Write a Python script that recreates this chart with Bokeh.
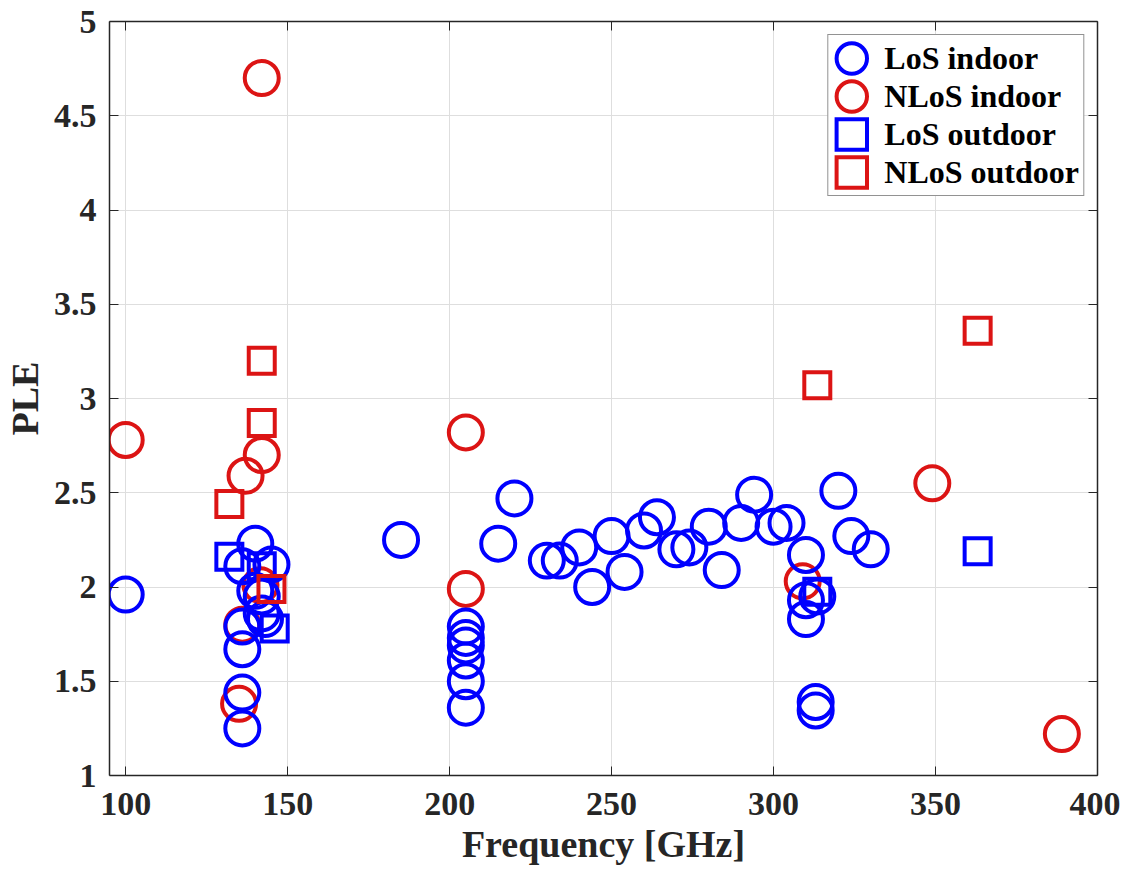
from bokeh.plotting import figure
from bokeh.models import ColumnDataSource, Range1d, FixedTicker, LinearAxis, Legend, LegendItem
from bokeh.embed import file_html
from bokeh.resources import INLINE

# ---------------- data ----------------
los_in_freq = [100, 140, 136, 145, 140, 142, 142, 143, 136, 136, 136, 136,
               185, 205, 205, 205, 205, 205, 205, 215, 220, 230, 234, 240,
               244, 250, 254, 260, 264, 270, 274, 280, 284, 290, 294, 300,
               304, 310, 310, 310, 313.5, 313, 313, 320, 324, 330]
los_in_ple = [1.96, 2.23, 2.11, 2.12, 1.98, 1.95, 1.86, 1.83, 1.79, 1.67, 1.44, 1.25,
              2.25, 1.79, 1.73, 1.69, 1.61, 1.50, 1.36, 2.23, 2.47, 2.14, 2.14, 2.21,
              2.00, 2.27, 2.08, 2.30, 2.37, 2.20, 2.21, 2.32, 2.09, 2.34, 2.49, 2.32,
              2.34, 2.17, 1.93, 1.83, 1.95, 1.39, 1.345, 2.51, 2.27, 2.20]

nlos_in_freq = [100, 142, 142, 137, 141.6, 136, 135, 205, 205, 309, 349, 389]
nlos_in_ple = [2.78, 4.70, 2.70, 2.59, 2.01, 1.80, 1.38, 2.82, 1.99, 2.03, 2.55, 1.22]

los_out_freq = [132, 142, 146, 313.5, 363]
los_out_ple = [2.16, 2.11, 1.78, 1.975, 2.19]

nlos_out_freq = [142, 142, 132, 145, 313.5, 363]
nlos_out_ple = [3.20, 2.87, 2.44, 1.99, 3.07, 3.36]

series_labels = ["LoS indoor", "NLoS indoor", "LoS outdoor", "NLoS outdoor"]

x_ticks = [100, 150, 200, 250, 300, 350, 400]
x_tick_labels = ["100", "150", "200", "250", "300", "350", "400"]
y_ticks = [1, 1.5, 2, 2.5, 3, 3.5, 4, 4.5, 5]
y_tick_labels = ["1", "1.5", "2", "2.5", "3", "3.5", "4", "4.5", "5"]

x_label = "Frequency [GHz]"
y_label = "PLE"

# ---------------- style ----------------
FONT = "Liberation Serif"
TXT = "#262626"
BLUE = "#0000FF"
RED = "#DC1414"
GRID = "#DEDEDE"

p = figure(width=1120, height=875, output_backend="svg", toolbar_location=None,
           x_range=Range1d(95, 400), y_range=Range1d(1, 5),
           min_border_left=107, min_border_right=23, min_border_top=21, min_border_bottom=100,
           background_fill_color="white", border_fill_color="white")
p.outline_line_color = None

src_los_in = ColumnDataSource(dict(x=los_in_freq, y=los_in_ple))
src_nlos_in = ColumnDataSource(dict(x=nlos_in_freq, y=nlos_in_ple))
src_los_out = ColumnDataSource(dict(x=los_out_freq, y=los_out_ple))
src_nlos_out = ColumnDataSource(dict(x=nlos_out_freq, y=nlos_out_ple))

r_nlos_in = p.ellipse(x="x", y="y", width=34, height=34, width_units="screen", height_units="screen",
                      source=src_nlos_in, fill_color=None, line_color=RED, line_width=4)
r_los_in = p.ellipse(x="x", y="y", width=34, height=34, width_units="screen", height_units="screen",
                     source=src_los_in, fill_color=None, line_color=BLUE, line_width=4)
r_los_out = p.rect(x="x", y="y", width=26, height=26, width_units="screen", height_units="screen",
                   source=src_los_out, fill_color=None, line_color=BLUE, line_width=4, line_join="miter")
r_nlos_out = p.rect(x="x", y="y", width=26, height=26, width_units="screen", height_units="screen",
                    source=src_nlos_out, fill_color=None, line_color=RED, line_width=4, line_join="miter")

# ---------------- axes ----------------
xt = FixedTicker(ticks=x_ticks)
yt = FixedTicker(ticks=y_ticks)

xax = p.xaxis[0]
yax = p.yaxis[0]
xax.ticker = xt
yax.ticker = yt
xax.major_label_overrides = dict(zip(x_ticks, x_tick_labels))
yax.major_label_overrides = dict(zip(y_ticks, y_tick_labels))
xax.axis_label = x_label
yax.axis_label = y_label

for ax in (xax, yax):
    ax.major_label_text_font = FONT
    ax.major_label_text_font_style = "bold"
    ax.major_label_text_font_size = "34px"
    ax.major_label_text_color = TXT
    ax.axis_label_text_font = FONT
    ax.axis_label_text_font_style = "bold"
    ax.axis_label_text_font_size = "38px"
    ax.axis_label_text_color = TXT
    ax.major_tick_in = 9
    ax.major_tick_out = 0
    ax.minor_tick_line_color = None
    ax.axis_line_color = TXT
    ax.axis_line_width = 1.5
    ax.major_tick_line_color = TXT
    ax.major_tick_line_width = 1
xax.major_label_standoff = 17
xax.axis_label_standoff = 5
yax.major_label_standoff = 13
yax.axis_label_standoff = 5

top_ax = LinearAxis(ticker=FixedTicker(ticks=x_ticks),
                    major_label_overrides={t: "" for t in x_ticks},
                    major_label_text_font_size="1px",
                    major_label_standoff=0, major_tick_in=9, major_tick_out=0,
                    minor_tick_line_color=None, axis_line_color=TXT, axis_line_width=1.5,
                    major_tick_line_color=TXT)
right_ax = LinearAxis(ticker=FixedTicker(ticks=y_ticks),
                      major_label_overrides={t: "" for t in y_ticks},
                      major_label_text_font_size="1px",
                      major_label_standoff=0, major_tick_in=9, major_tick_out=0,
                      minor_tick_line_color=None, axis_line_color=TXT, axis_line_width=1.5,
                      major_tick_line_color=TXT)
p.add_layout(top_ax, "above")
p.add_layout(right_ax, "right")

p.xgrid.ticker = xt
p.ygrid.ticker = yt
p.xgrid.grid_line_color = GRID
p.ygrid.grid_line_color = GRID

# ---------------- legend ----------------
legend = Legend(items=[LegendItem(label=series_labels[0], renderers=[r_los_in]),
                       LegendItem(label=series_labels[1], renderers=[r_nlos_in]),
                       LegendItem(label=series_labels[2], renderers=[r_los_out]),
                       LegendItem(label=series_labels[3], renderers=[r_nlos_out])],
                location="top_right", glyph_width=38, glyph_height=38, spacing=0,
                padding=4, label_standoff=14, margin=13,
                label_text_font=FONT, label_text_font_style="bold", label_text_font_size="32px",
                label_text_color="black", border_line_color=TXT, border_line_width=1,
                background_fill_color="white", background_fill_alpha=1)
p.add_layout(legend)

open("out.html", "w").write(file_html(p, INLINE))
